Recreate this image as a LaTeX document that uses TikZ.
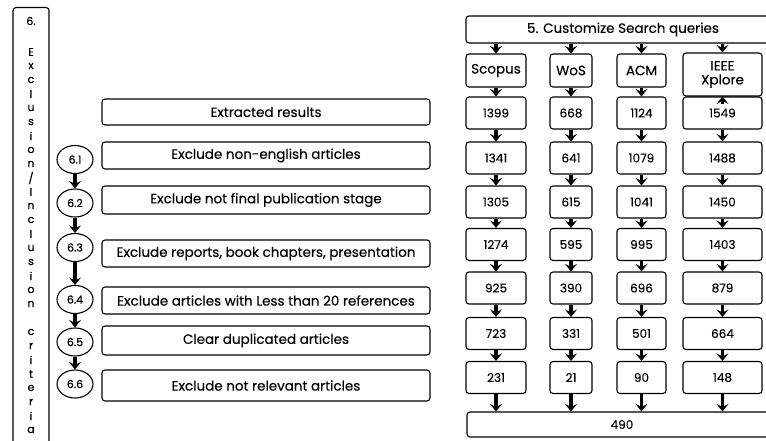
\documentclass[tikz,border=0pt]{standalone}
\usepackage{fontspec}
\setmainfont{Poppins}[FakeBold=0.2]
\usetikzlibrary{arrows.meta, positioning, calc, shapes.geometric}
\tikzset{
  box/.style={draw, rounded corners=3pt, line width=1.1pt, inner sep=0pt, font=\fontsize{13.5}{16}\selectfont},
  wide/.style={box, minimum width=328pt, minimum height=#1},
  num/.style={box, minimum height=32pt, font=\fontsize{12}{14}\selectfont},
  stage/.style={draw, ellipse, line width=1.1pt, minimum width=36pt, minimum height=28pt, inner sep=0pt, font=\fontsize{11}{13}\selectfont},
  arr/.style={line width=3.2pt, -{Stealth[length=7.5pt, width=12pt, inset=3pt]}},
}
\begin{document}
\begin{tikzpicture}[x=1pt, y=-1pt,
    letter/.style={inner sep=0pt, font=\fontsize{11}{13}\selectfont}]
  \useasboundingbox[fill=white] (0,0) rectangle (766,441);

  % left column: criteria
  \node[draw, rounded corners=3pt, line width=1.1pt, minimum width=36pt, minimum height=470pt, anchor=north] (crit) at (31,7) {};
  \node[letter] (six) at (31,21) {6.};
  \foreach \ch [count=\i from 0] in {E,x,c,l,u,s,i,o,n,/,I,n,c,l,u,s,i,o,n,{},c,r,i,t,e,r,i,a}
    \node[letter] (l\i) at (31,52+14*\i) {\ch};

  % steps
  \node[wide=26pt] (ext) at (266,112) {Extracted results};
  \node[wide=27pt] (e61) at (266,155.5) {Exclude non-english articles};
  \node[wide=28pt] (e62) at (266,200) {Exclude not final publication stage};
  \node[wide=27pt] (e63) at (266,253.5) {Exclude reports, book chapters, presentation};
  \node[wide=27pt] (e64) at (266,300.5) {Exclude articles with Less than 20 references};
  \node[wide=29pt] (e65) at (266,340.5) {Clear duplicated articles};
  \node[wide=31pt] (e66) at (266,385.5) {Exclude not relevant articles};

  \node[stage] (c61) at (75,159.5) {6.1};
  \node[stage] (c62) at (75,203) {6.2};
  \node[stage] (c63) at (75,247.5) {6.3};
  \node[stage] (c64) at (75,299.5) {6.4};
  \node[stage] (c65) at (75,342) {6.5};
  \node[stage] (c66) at (75,384) {6.6};
  \draw[arr] (c61) -- (c62);
  \draw[arr] (c62) -- (c63);
  \draw[arr] (c63) -- (c64);
  \draw[arr] (c64) -- (c65);
  \draw[arr] (c65) -- (c66);

  % right side: databases
  \node[box, minimum width=314pt, minimum height=27pt] (hdr) at (623,29.5) {5. Customize Search queries};
  \node[box, minimum width=60pt, minimum height=33pt] (sc0) at (496,70.5) {Scopus};
  \node[box, minimum width=42pt, minimum height=33pt] (wo0) at (571,70.5) {WoS};
  \node[box, minimum width=49pt, minimum height=33pt] (ac0) at (641.5,70.5) {ACM};
  \node[box, minimum width=79pt, minimum height=43pt, align=center] (ie0) at (722.5,74.5) {IEEE\\[-2pt]Xplore};
  \foreach \r/\y/\a/\b/\c/\d in {1/113/1399/668/1124/1549, 2/158/1341/641/1079/1488,
      3/202/1305/615/1041/1450, 4/244.5/1274/595/995/1403, 5/288/925/390/696/879,
      6/333.5/723/331/501/664, 7/377.5/231/21/90/148} {
    \node[num, minimum width=60pt] (sc\r) at (496,\y) {\a};
    \node[num, minimum width=42pt] (wo\r) at (571,\y) {\b};
    \node[num, minimum width=49pt] (ac\r) at (641.5,\y) {\c};
    \node[num, minimum width=79pt] (ie\r) at (722.5,\y) {\d};
  }
  \node[num, minimum width=310pt, minimum height=25pt] (tot) at (622,424.5) {490};

  \foreach \col in {sc,wo,ac,ie} {
    \draw[arr] (hdr.south -| \col0) -- (\col0.north);
    \draw[arr] (\col7.south) -- (tot.north -| \col7);
  }
  \foreach \col in {sc,wo,ac} \draw[arr] (\col0.south) -- (\col1.north);
  \draw[arr] ([yshift=-8pt]ie1.north) -- (ie0.south);
  \foreach \col in {sc,wo,ac,ie}
    \foreach \p/\q in {1/2,2/3,3/4,4/5,5/6,6/7}
      \draw[arr] (\col\p.south) -- (\col\q.north);
\end{tikzpicture}
\end{document}
